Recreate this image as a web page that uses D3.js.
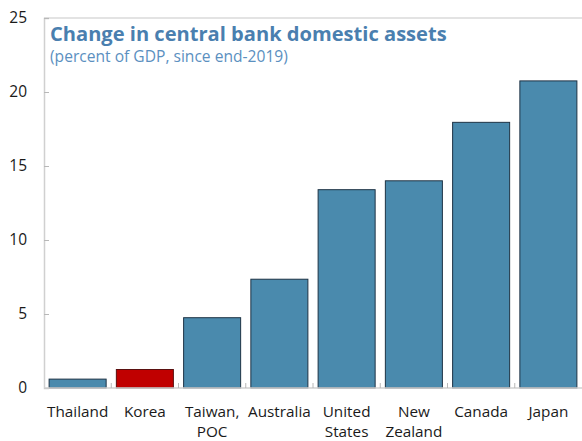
<!DOCTYPE html>
<html>
<head>
<meta charset="utf-8">
<script src="https://cdn.jsdelivr.net/npm/d3@7"></script>
<style>
  html, body { margin: 0; padding: 0; background: #fff; }
  svg { display: block; }
  text { font-family: "Open Sans", "Noto Sans", sans-serif; }
</style>
</head>
<body>
<svg id="chart" width="582" height="441"></svg>
<script>
// Change in central bank domestic assets, percent of GDP since end-2019
const categories = [["Thailand"], ["Korea"], ["Taiwan,", "POC"], ["Australia"],
  ["United", "States"], ["New", "Zealand"], ["Canada"], ["Japan"]];
const values = [0.6, 1.25, 4.75, 7.35, 13.4, 14.0, 17.95, 20.75];
const highlight = ["Korea"];
const yTicks = [0, 5, 10, 15, 20, 25];
const title = "Change in central bank domestic assets";
const subtitle = "(percent of GDP, since end-2019)";

const W = 582, H = 441;
const margin = { top: 18, right: 0, bottom: 53, left: 44 };
const svg = d3.select("#chart");

const names = categories.map(c => c.join(" "));
const x = d3.scaleBand()
  .domain(names)
  .range([margin.left, W - margin.right])
  .paddingInner(0.152)
  .paddingOuter(0.076);

const y = d3.scaleLinear()
  .domain([0, 25])
  .range([H - margin.bottom, margin.top]);

const axisColor = "#d0d0d0";

// frame: top rule
svg.append("line")
  .attr("x1", margin.left).attr("x2", W)
  .attr("y1", y(25)).attr("y2", y(25))
  .attr("stroke", "#c8c8c8").attr("stroke-width", 1.2);

// bars
svg.append("g").selectAll("rect")
  .data(values)
  .join("rect")
  .attr("x", (d, i) => x(names[i]))
  .attr("width", x.bandwidth())
  .attr("y", d => y(d))
  .attr("height", d => y(0) - y(d))
  .attr("fill", (d, i) => highlight.includes(names[i]) ? "#c00000" : "#4a8aad")
  .attr("stroke", (d, i) => highlight.includes(names[i]) ? "#5a1010" : "#1e3345")
  .attr("stroke-width", 1);

// y axis
const yAxis = svg.append("g")
  .attr("transform", `translate(${margin.left},0)`)
  .call(d3.axisRight(y).tickValues(yTicks).tickSize(5).tickFormat(d3.format("d")));
yAxis.select(".domain").attr("stroke", axisColor).attr("stroke-width", 1.5);
yAxis.selectAll(".tick line").attr("stroke", "#b8b8b8");
yAxis.selectAll(".tick text")
  .attr("x", -17)
  .attr("text-anchor", "end")
  .attr("fill", "#1a1a1a")
  .attr("font-size", 15.5);

// x axis baseline and boundary ticks
const xAxis = svg.append("g")
  .attr("transform", `translate(0,${y(0)})`);
xAxis.append("line")
  .attr("x1", margin.left).attr("x2", W)
  .attr("stroke", axisColor).attr("stroke-width", 1.5);
const bounds = names.slice(1).map(n => x(n) - x.step() * x.paddingInner() / 2);
xAxis.selectAll(".bt")
  .data(bounds)
  .join("line")
  .attr("class", "bt")
  .attr("x1", d => d).attr("x2", d => d)
  .attr("y1", 0).attr("y2", -5)
  .attr("stroke", "#b8b8b8");

// category labels
const labels = svg.append("g")
  .selectAll("text")
  .data(categories)
  .join("text")
  .attr("x", (d, i) => x(names[i]) + x.bandwidth() / 2)
  .attr("y", y(0) + 29)
  .attr("text-anchor", "middle")
  .attr("fill", "#1a1a1a")
  .attr("font-size", 15.3);
labels.selectAll("tspan")
  .data(d => d)
  .join("tspan")
  .attr("x", function () { return this.parentNode.getAttribute("x"); })
  .attr("dy", (d, i) => i === 0 ? 0 : 20)
  .text(d => d);

// title block
svg.append("text")
  .attr("x", 50).attr("y", 41)
  .attr("fill", "#4a7faf")
  .attr("font-weight", 700)
  .attr("font-size", 20.1)
  .text(title);
svg.append("text")
  .attr("x", 50).attr("y", 62)
  .attr("fill", "#5b90bf")
  .attr("font-size", 15.6)
  .text(subtitle);
</script>
</body>
</html>
